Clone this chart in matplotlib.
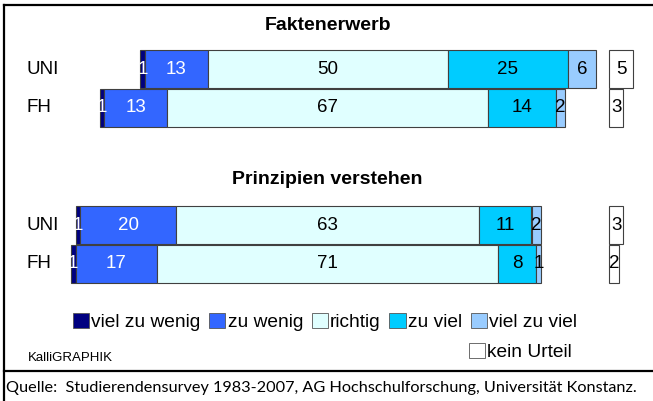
import matplotlib
matplotlib.use("Agg")
import matplotlib.pyplot as plt
from matplotlib.patches import Patch
from matplotlib.lines import Line2D
from matplotlib.transforms import blended_transform_factory

plt.rcParams['font.family'] = ['Liberation Sans', 'DejaVu Sans']

# ---- data ----
panels = ["Faktenerwerb", "Prinzipien verstehen"]
groups = ["UNI", "FH"]
series = ["viel zu wenig", "zu wenig", "richtig", "zu viel", "viel zu viel"]
kein_label = "kein Urteil"
fakten = {"UNI": [1, 13, 50, 25, 6], "FH": [1, 13, 67, 14, 2]}
prinzip = {"UNI": [1, 20, 63, 11, 2], "FH": [1, 17, 71, 8, 1]}
fakten_kein = {"UNI": 5, "FH": 3}
prinzip_kein = {"UNI": 3, "FH": 2}
source = "Quelle:  Studierendensurvey 1983-2007, AG Hochschulforschung, Universität Konstanz."
brand = "KalliGRAPHIK"

colors = ["#000080", "#3366FF", "#E0FFFF", "#00CCFF", "#99CCFF"]
txtcol = ["white", "white", "black", "black", "black"]

W, H = 653, 401
fig = plt.figure(figsize=(W / 100, H / 100), dpi=100)
ax = fig.add_axes([0, 0, 1, 1])
scale = 4.8
center_px = 327.5
ax.set_xlim(-center_px / scale, (W - center_px) / scale)
ax.set_ylim(H, 0)
ax.axis("off")

kein_x = (609 - center_px) / scale
bar_h = 38.5
ec = "#404040"
lw = 0.8
fs = 13.5

xpix = blended_transform_factory(fig.transFigure, ax.transData)

layout = [
    (panels[0], fakten, fakten_kein, 25, [69, 108]),
    (panels[1], prinzip, prinzip_kein, 180, [225, 264]),
]
for title, data, kein, ty, ys in layout:
    ax.text(0, ty, title, ha="center", va="center", fontsize=14, fontweight="bold")
    for g, yc in zip(groups, ys):
        vals = data[g]
        left = -(vals[0] + vals[1] + vals[2] / 2)
        for v, c, tc in zip(vals, colors, txtcol):
            ax.barh(yc, v, left=left, height=bar_h, color=c, edgecolor=ec, linewidth=lw)
            ax.text(left + v / 2, yc, str(v), ha="center", va="center", fontsize=fs, color=tc)
            left += v
        kv = kein[g]
        ax.barh(yc, kv, left=kein_x, height=bar_h, color="white", edgecolor=ec, linewidth=lw)
        ax.text(kein_x + kv / 2, yc, str(kv), ha="center", va="center", fontsize=fs)
        ax.text(27 / W, yc, g, transform=xpix, ha="left", va="center", fontsize=fs)

# legend
lfs = 13.8
handles = [Patch(facecolor=c, edgecolor="#555555", linewidth=0.6, label=s) for c, s in zip(colors, series)]
leg1 = fig.legend(handles=handles, loc="center", bbox_to_anchor=(325 / W, 1 - 322 / H), ncol=5,
                  frameon=False, fontsize=lfs, handlelength=0.85, handleheight=0.85,
                  handletextpad=0.12, columnspacing=0.45, borderpad=0)
leg2 = fig.legend(handles=[Patch(facecolor="white", edgecolor="#555555", linewidth=0.6, label=kein_label)],
                  loc="center left", bbox_to_anchor=(459 / W, 1 - 352 / H), frameon=False, fontsize=lfs,
                  handlelength=0.85, handleheight=0.85, handletextpad=0.12, borderpad=0)

fig.text(28 / W, 1 - 358 / H, brand, ha="left", va="center", fontsize=9.5)
fig.text(6 / W, 1 - 388 / H, source, ha="left", va="center", fontsize=11.7, family=["Lato", "DejaVu Sans"])

# frame lines
for xs, ys_ in [([3.5, W], [4.5, 4.5]), ([3.5, 3.5], [4.5, H]), ([3.5, W], [371, 371])]:
    fig.add_artist(Line2D([x / W for x in xs], [1 - y / H for y in ys_], color="black", linewidth=1.6,
                          transform=fig.transFigure))

fig.savefig("out.png", dpi=100)
